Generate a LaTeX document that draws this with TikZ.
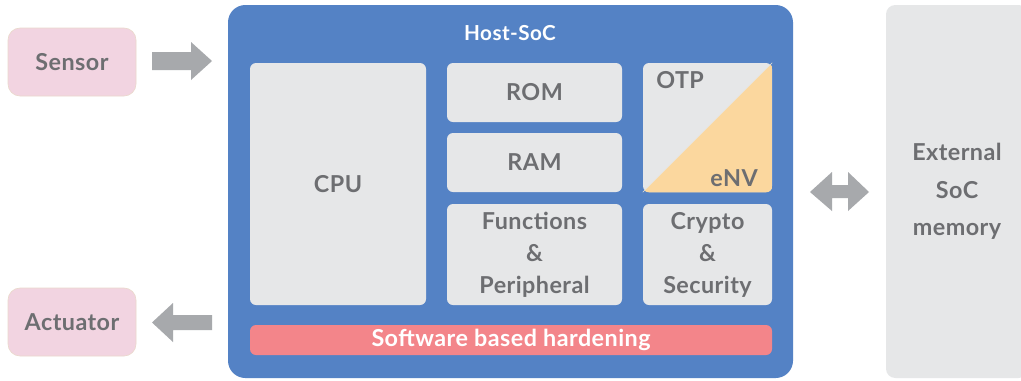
\documentclass[tikz,border=0pt]{standalone}
\usepackage{fontspec}
\setmainfont{Lato}[LetterSpace=2]
\definecolor{hostblue}{HTML}{5482C5}
\definecolor{boxgray}{HTML}{E6E7E8}
\definecolor{txtgray}{HTML}{6D6E71}
\definecolor{pinkfill}{HTML}{F2D4E1}
\definecolor{pinkline}{HTML}{EAD9CC}
\definecolor{envorange}{HTML}{FBD79E}
\definecolor{hardred}{HTML}{F3858A}
\definecolor{arrowgray}{HTML}{A7A9AC}
\tikzset{
  every node/.style={font=\fontsize{17.5}{24}\selectfont\bfseries, text=txtgray, align=center, inner sep=0pt},
  graybox/.style={fill=boxgray, rounded corners=4.5pt},
  pinkbox/.style={fill=pinkfill, draw=pinkline, line width=0.5pt, rounded corners=9pt, minimum width=96pt, minimum height=51pt},
  blockarrow/.style={fill=arrowgray}
}
\begin{document}
\begin{tikzpicture}[x=0.75pt,y=-0.75pt]
\clip (0,0) rectangle (1021,380);
\fill[white] (0,0) rectangle (1021,380);
% Host SoC
\node[fill=hostblue, rounded corners=13pt, minimum width=423.75pt, minimum height=279.75pt] (host) at (510.5,191.5) {};
\node[text=white, font=\fontsize{15.5}{18}\selectfont\bfseries] (hosttitle) at (510,33) {Host-SoC};
% inner boxes
\node[graybox, minimum width=132pt, minimum height=181.5pt] (cpu) at (338,184) {CPU};
\node[graybox, minimum width=131.25pt, minimum height=44.25pt] (rom) at (534.5,92.5) {ROM};
\node[graybox, minimum width=131.25pt, minimum height=44.25pt] (ram) at (534.5,162.5) {RAM};
\node[graybox, minimum width=131.25pt, minimum height=75.75pt] (func) at (534.5,254.5) {Functions\\\&\\Peripheral};
\node[graybox, minimum width=96.75pt, minimum height=96.75pt] (otp) at (707.5,127.5) {};
\begin{scope}
  \clip[rounded corners=4.5pt] (otp.south west) rectangle (otp.north east);
  \fill[envorange] (otp.south west) -- (otp.north east) |- cycle;
\end{scope}
\draw[boxgray!80!envorange, line width=0.4pt] (otp.south west) -- (otp.north east);
\node[anchor=base west] (otplabel) at (656,88) {OTP};
\node[anchor=base east] (envlabel) at (758,186) {eNV};
\node[graybox, minimum width=96.75pt, minimum height=75.75pt] (crypto) at (707.5,254.5) {Crypto\\\&\\Security};
\node[fill=hardred, rounded corners=4.5pt, minimum width=391.5pt, minimum height=22.5pt, text=white] (hard) at (511,340) {Software based hardening};
% Sensor / Actuator
\node[pinkbox] (sensor) at (72,62) {Sensor};
\node[pinkbox] (actuator) at (72,322) {Actuator};
% External memory
\node[graybox, rounded corners=7pt, minimum width=106.5pt, minimum height=279.75pt, font=\fontsize{17.5}{28}\selectfont\bfseries] (ext) at (957,191.5) {External\\SoC\\memory};
% block arrows
\fill[blockarrow] (152,52) -- (191,52) -- (191,42) -- (212,61) -- (191,80) -- (191,70) -- (152,70) -- cycle;
\fill[blockarrow] (212,315) -- (173,315) -- (173,303) -- (152,322.5) -- (173,342) -- (173,330) -- (212,330) -- cycle;
\fill[blockarrow] (810,192) -- (832,172) -- (832,185) -- (848,185) -- (848,172) -- (869,192) -- (848,211) -- (848,198) -- (832,198) -- (832,211) -- cycle;
\end{tikzpicture}
\end{document}
